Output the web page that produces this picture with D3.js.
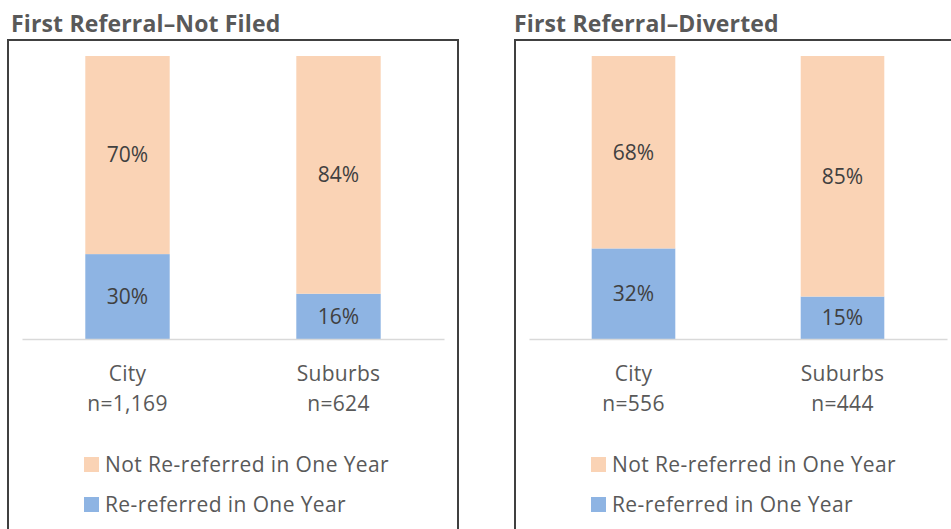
<!DOCTYPE html>
<html>
<head>
<meta charset="utf-8">
<script src="https://cdn.jsdelivr.net/npm/d3@7"></script>
<style>
body { margin: 0; background: #fff; }
svg { display: block; font-family: "Open Sans", Lato, sans-serif; }
</style>
</head>
<body>
<svg id="chart"></svg>
<script>
var width = 951, height = 529;

// data
var panelTitles = ["First Referral\u2013Not Filed", "First Referral\u2013Diverted"];
var categories = ["City", "Suburbs"];
var sampleSizes = [["1,169", "624"], ["556", "444"]];
var reReferred = [[30, 16], [32, 15]];
var notReReferred = [[70, 84], [68, 85]];
var seriesKeys = ["re", "not"];
var legendLabels = ["Not Re-referred in One Year", "Re-referred in One Year"];

var color = d3.scaleOrdinal()
  .domain(seriesKeys)
  .range(["#8eb4e3", "#fad3b5"]);

// panel geometry
var panels = [
  {boxX: 8, boxW: 450, titleX: 11, axisX0: 22, axisX1: 444, legendX: 84},
  {boxX: 515, boxW: 460, titleX: 514, axisX0: 529, axisX1: 947, legendX: 591}
];
var boxTop = 40, plotTop = 56, baseY = 339;
var fontSize = 21;

var svg = d3.select("#chart")
  .attr("width", width)
  .attr("height", height)
  .attr("viewBox", [0, 0, width, height]);

var y = d3.scaleLinear().domain([0, 100]).range([baseY, plotTop]);

panels.forEach(function(p, pi) {
  var g = svg.append("g");

  // title
  g.append("text")
    .attr("x", p.titleX)
    .attr("y", 32)
    .attr("fill", "#595959")
    .attr("font-weight", "bold")
    .attr("font-size", 23)
    .attr("letter-spacing", 0.15)
    .text(panelTitles[pi]);

  // box (bottom runs off the picture)
  g.append("path")
    .attr("d", `M${p.boxX},${height + 5}V${boxTop}H${p.boxX + p.boxW}V${height + 5}`)
    .attr("fill", "none")
    .attr("stroke", "#404040")
    .attr("stroke-width", 2);

  var rows = categories.map(function(c, i) {
    return {cat: c, n: sampleSizes[pi][i], re: reReferred[pi][i], not: notReReferred[pi][i]};
  });

  var series = d3.stack().keys(seriesKeys)(rows);

  var x = d3.scaleBand()
    .domain(categories)
    .range([p.axisX0, p.axisX1])
    .paddingInner(0.6)
    .paddingOuter(0.3);

  g.append("g")
    .selectAll("g")
    .data(series)
    .join("g")
    .attr("fill", d => color(d.key))
    .selectAll("rect")
    .data(d => d)
    .join("rect")
    .attr("x", d => x(d.data.cat))
    .attr("y", d => y(d[1]))
    .attr("width", x.bandwidth())
    .attr("height", d => y(d[0]) - y(d[1]));

  // value labels
  series.forEach(function(s) {
    g.append("g")
      .selectAll("text")
      .data(s)
      .join("text")
      .attr("x", d => x(d.data.cat) + x.bandwidth() / 2)
      .attr("y", d => (y(d[0]) + y(d[1])) / 2)
      .attr("dy", "0.35em")
      .attr("text-anchor", "middle")
      .attr("font-size", fontSize)
      .attr("fill", "#404040")
      .text(d => d.data[s.key] + "%");
  });

  // x axis
  var axis = g.append("g")
    .attr("transform", `translate(0,${baseY})`)
    .call(d3.axisBottom(x).tickSize(0).tickPadding(0).tickFormat(""));
  axis.select(".domain").attr("stroke", "#d9d9d9").attr("stroke-width", 1.5);

  var labels = g.append("g")
    .selectAll("text")
    .data(rows)
    .join("text")
    .attr("text-anchor", "middle")
    .attr("font-size", fontSize)
    .attr("letter-spacing", 0.3)
    .attr("fill", "#595959")
    .attr("transform", d => `translate(${x(d.cat) + x.bandwidth() / 2},0)`);
  labels.append("tspan").attr("x", 0).attr("y", 381).text(d => d.cat);
  labels.append("tspan").attr("x", 0).attr("y", 411).text(d => "n=" + d.n);

  // legend
  var legend = g.append("g")
    .selectAll("g")
    .data(["not", "re"])
    .join("g")
    .attr("transform", (d, i) => `translate(${p.legendX},${465 + i * 40})`);
  legend.append("rect")
    .attr("x", 0)
    .attr("y", -8)
    .attr("width", 15)
    .attr("height", 15)
    .attr("fill", d => color(d));
  legend.append("text")
    .attr("x", 21)
    .attr("y", 0)
    .attr("dy", "0.35em")
    .attr("font-size", fontSize)
    .attr("letter-spacing", 0.4)
    .attr("fill", "#595959")
    .text((d, i) => legendLabels[i]);
});
</script>
</body>
</html>
